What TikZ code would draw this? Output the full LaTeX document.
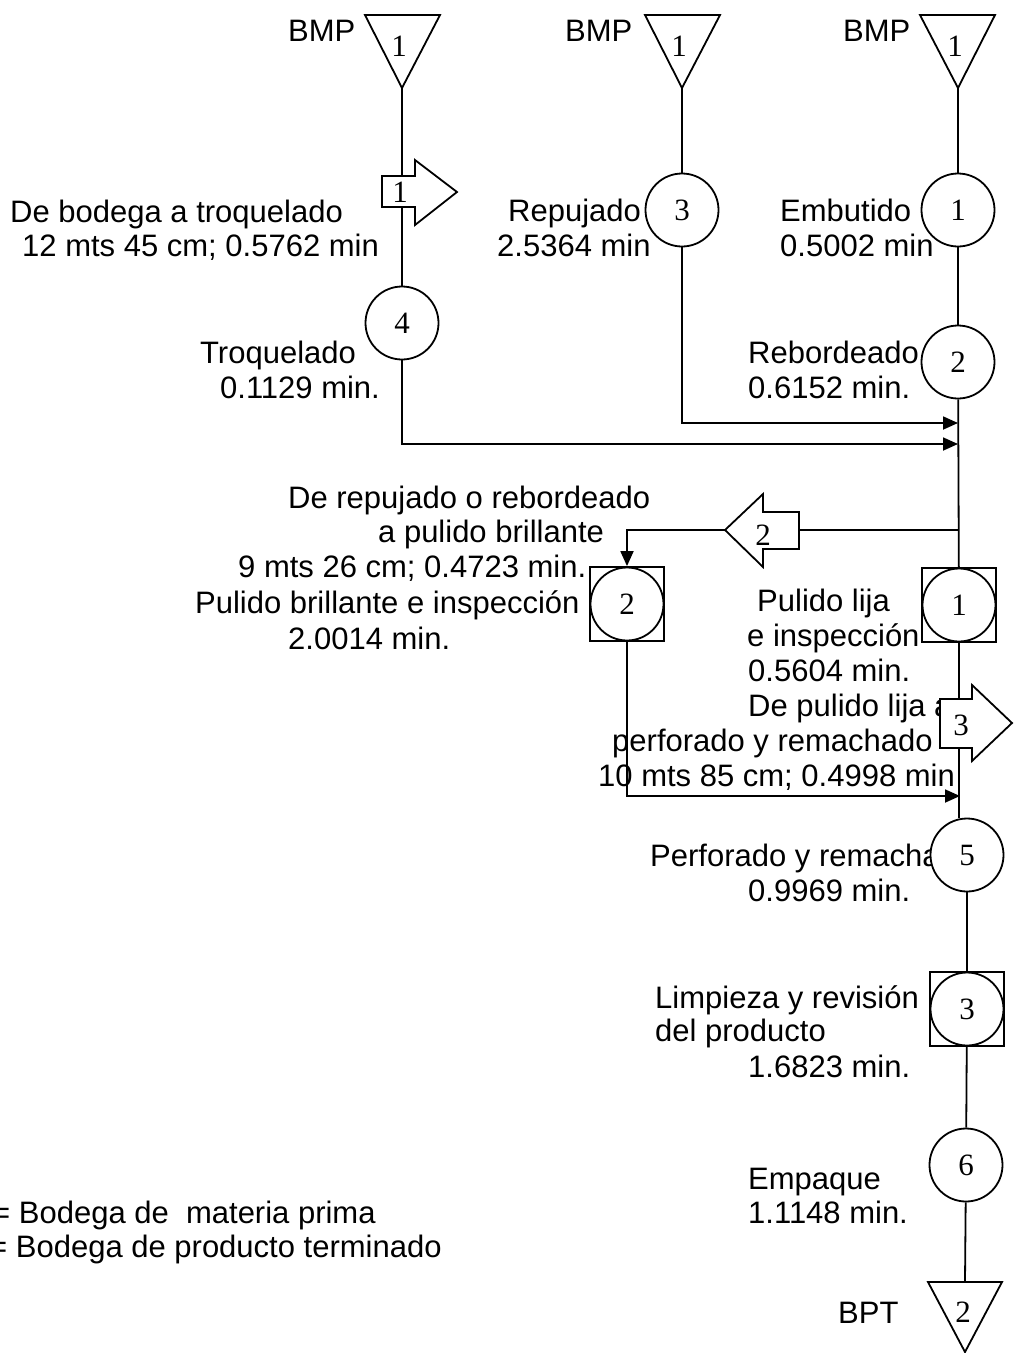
\documentclass[tikz,border=0pt]{standalone}
\usepackage{fontspec}
\setmainfont{Liberation Sans}
\newfontfamily\numfont{Liberation Serif}
\usetikzlibrary{arrows.meta}
\pgfdeclarelayer{back}
\pgfsetlayers{back,main}

\tikzset{
  flow/.style={line width=1.8pt},
  flowarrow/.style={flow, -{Triangle[length=15pt,width=13pt]}},
  opc/.style={circle, draw, line width=1.8pt, fill=white, minimum size=73pt,
    inner sep=0pt, font=\numfont\fontsize{31}{31}\selectfont},
  inspbox/.style={rectangle, draw, line width=1.8pt, fill=white, minimum size=74pt, inner sep=0pt},
  lbl/.style={anchor=base west, inner sep=0pt, font=\fontsize{31}{35}\selectfont},
  num/.style={inner sep=0pt, font=\numfont\fontsize{31}{31}\selectfont},
  shapeline/.style={line width=1.8pt, fill=white, line join=miter},
}

\begin{document}
\begin{tikzpicture}[x=1pt,y=-1pt]
\useasboundingbox (0,0) rectangle (1014,1353);

% ---------- texts ----------
\begin{pgfonlayer}{back}
\node[lbl] (tbmpA) at (288,41) {BMP};
\node[lbl] (tbmpB) at (565,41) {BMP};
\node[lbl] (tbmpC) at (843,41) {BMP};
\node[lbl] (ttr1) at (10,222) {De bodega a troquelado};
\node[lbl] (ttr2) at (22,256) {12 mts 45 cm; 0.5762 min};
\node[lbl] (trep1) at (508,221) {Repujado};
\node[lbl] (trep2) at (497,256) {2.5364 min};
\node[lbl] (temb1) at (780,221) {Embutido};
\node[lbl] (temb2) at (780,256) {0.5002 min};
\node[lbl] (ttroq1) at (200,363) {Troquelado};
\node[lbl] (ttroq2) at (220,398) {0.1129 min.};
\node[lbl] (treb1) at (748,363) {Rebordeado};
\node[lbl] (treb2) at (748,398) {0.6152 min.};
\node[lbl] (tt2a) at (288,508) {De repujado o rebordeado};
\node[lbl] (tt2b) at (378,542) {a pulido brillante};
\node[lbl] (tt2c) at (238,577) {9 mts 26 cm; 0.4723 min.};
\node[lbl] (tpb1) at (195,613) {Pulido brillante e inspección};
\node[lbl] (tpb2) at (288,649) {2.0014 min.};
\node[lbl] (tpl1) at (757,611) {Pulido lija};
\node[lbl] (tpl2) at (747,646) {e inspección};
\node[lbl] (tpl3) at (748,681) {0.5604 min.};
\node[lbl] (tt3a) at (748,716) {De pulido lija a};
\node[lbl] (tt3b) at (612,751) {perforado y remachado};
\node[lbl] (tt3c) at (598,786) {10 mts 85 cm; 0.4998 min};
\node[lbl] (tper1) at (650,866) {Perforado y remachado};
\node[lbl] (tper2) at (748,901) {0.9969 min.};
\node[lbl] (tlim1) at (655,1008) {Limpieza y revisión};
\node[lbl] (tlim2) at (655,1041) {del producto};
\node[lbl] (tlim3) at (748,1077) {1.6823 min.};
\node[lbl] (temp1) at (748,1189) {Empaque};
\node[lbl] (temp2) at (748,1223) {1.1148 min.};
\node[lbl] (tbpt) at (838,1323) {BPT};
\node[lbl] (tleg1) at (-8,1223) {= Bodega de\ \ materia prima};
\node[lbl] (tleg2) at (-11,1257) {= Bodega de producto terminado};
\end{pgfonlayer}

% ---------- storage triangles ----------
\draw[shapeline] (365,15) -- (440,15) -- (402,88) -- cycle;
\draw[shapeline] (645,15) -- (720,15) -- (682,88) -- cycle;
\draw[shapeline] (920,15) -- (995,15) -- (958,88) -- cycle;
\draw[shapeline] (928,1282) -- (1002,1282) -- (965,1352) -- cycle;
\coordinate (bmpA) at (402,88);
\coordinate (bmpB) at (682,88);
\coordinate (bmpC) at (958,88);
\coordinate (bptin) at (965,1282);
\node[num] (nbmpA) at (399,46) {1};
\node[num] (nbmpB) at (679,46) {1};
\node[num] (nbmpC) at (955,46) {1};
\node[num] (nbpt) at (963,1312) {2};

% ---------- operations and inspections ----------
\node[opc] (c3) at (682,210) {3};
\node[opc] (c1) at (958,210) {1};
\node[opc] (c4) at (402,323) {4};
\node[opc] (c2) at (958,362) {2};
\node[inspbox] (sq2) at (627,604) {};
\node[opc] (o2) at (sq2) {2};
\node[inspbox] (sq1) at (959,605) {};
\node[opc] (o1) at (sq1) {1};
\node[opc] (c5) at (967,855) {5};
\node[inspbox] (sq3) at (967,1009) {};
\node[opc] (o3) at (sq3) {3};
\node[opc] (c6) at (966,1165) {6};

% junction points on the main line
\coordinate (jB) at (958,423);
\coordinate (jA) at (958,444);
\coordinate (br) at (958,530);
\coordinate (jS) at (960,796);
\coordinate (a2tail) at (799,530);
\coordinate (a2tip) at (725,530);

% ---------- connectors ----------
\begin{pgfonlayer}{back}
\draw[flow] (bmpA) -- (c4);
\draw[flow] (bmpB) -- (c3);
\draw[flow] (bmpC) -- (c1);
\draw[flow] (c1) -- (c2);
\draw[flow] (c2) -- (sq1);
\draw[flow] (sq1.south) -- (sq1.south |- c5.north);
\draw[flow] (c5) -- (sq3);
\draw[flow] (sq3) -- (c6);
\draw[flow] (c6) -- (bptin);
\draw[flowarrow] (c3.south) |- (jB);
\draw[flowarrow] (c4.south) |- (jA);
\draw[flow] (br) -- (a2tail);
\draw[flowarrow] (a2tip) -| (sq2.north);
\draw[flowarrow] (sq2.south) |- (jS);
\end{pgfonlayer}

% ---------- transport arrows ----------
\draw[shapeline] (382,176) -- (415,176) -- (415,160) -- (457,192) -- (415,225)
  -- (415,207) -- (382,207) -- cycle;
\node[num] (na1) at (400,192) {1};
\draw[shapeline] (799,512) -- (763,512) -- (763,494) -- (a2tip)
  -- (763,567) -- (763,549) -- (799,549) -- cycle;
\node[num] (na2) at (763,535) {2};
\draw[shapeline] (940,699) -- (972,699) -- (972,685) -- (1012,723) -- (972,761)
  -- (972,748) -- (940,748) -- cycle;
\node[num] (na3) at (961,725) {3};
\end{tikzpicture}
\end{document}
